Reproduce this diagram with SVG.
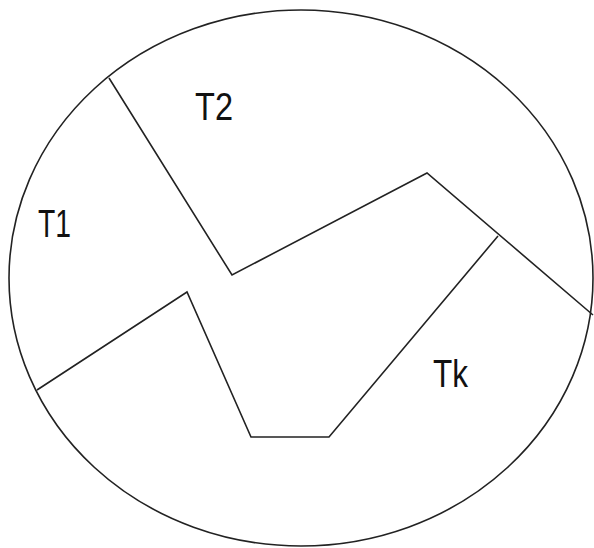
<svg xmlns="http://www.w3.org/2000/svg" width="594" height="548" viewBox="0 0 594 548">
<style>
.s{fill:none;stroke:#222;stroke-width:1.6;stroke-linejoin:miter}
.t{font-family:"Liberation Sans",Arial,sans-serif;font-size:38px;fill:#111}
</style>
<rect width="594" height="548" fill="#fff"/>
<g id="boundary"><ellipse class="s" cx="301" cy="278" rx="292" ry="268"/></g>
<g id="connectors">
<polyline class="s" points="109,78 232,275 427,173 593,315"/>
<polyline class="s" points="37,390 187,292 251,437 329,437 498,236"/>
</g>
<g id="T1"><text class="t" x="38" y="237" textLength="33" lengthAdjust="spacingAndGlyphs">T1</text></g>
<g id="T2"><text class="t" x="195" y="120" textLength="38" lengthAdjust="spacingAndGlyphs">T2</text></g>
<g id="Tk"><text class="t" x="433" y="387" textLength="35" lengthAdjust="spacingAndGlyphs">Tk</text></g>
</svg>
